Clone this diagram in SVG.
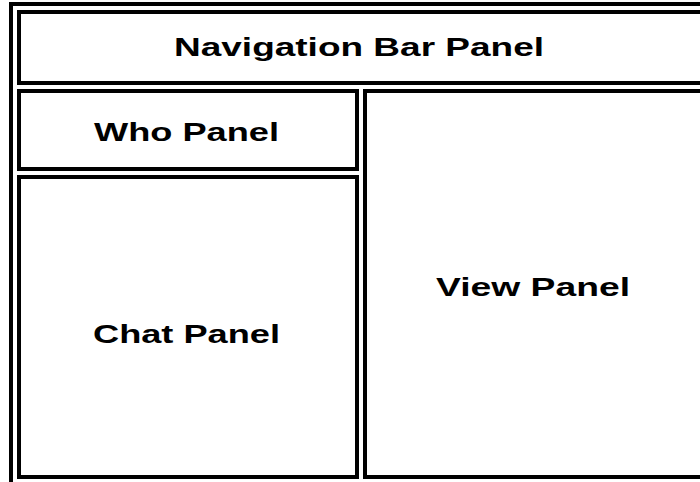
<svg xmlns="http://www.w3.org/2000/svg" width="700" height="482" viewBox="0 0 700 482">
<style>
.b{fill:none;stroke:#000;stroke-width:4}
.t{font-family:"Liberation Sans",Arial,sans-serif;font-weight:bold;font-size:25.5px;fill:#000;text-anchor:middle}
</style>
<rect width="700" height="482" fill="#fff"/>
<g id="outer"><path class="b" d="M11 484 V4 H720"/></g>
<g id="nav"><rect class="b" x="19" y="12" width="700" height="71"/><text class="t" x="359" y="56" textLength="370" lengthAdjust="spacingAndGlyphs">Navigation Bar Panel</text></g>
<g id="who"><rect class="b" x="19" y="91" width="338" height="78"/><text class="t" x="186.5" y="141" textLength="185" lengthAdjust="spacingAndGlyphs">Who Panel</text></g>
<g id="chat"><rect class="b" x="19" y="177" width="338" height="300"/><text class="t" x="186.5" y="343" textLength="187" lengthAdjust="spacingAndGlyphs">Chat Panel</text></g>
<g id="view"><rect class="b" x="365" y="91" width="360" height="386"/><text class="t" x="533" y="296" textLength="194" lengthAdjust="spacingAndGlyphs">View Panel</text></g>
<g id="connectors"></g>
</svg>
